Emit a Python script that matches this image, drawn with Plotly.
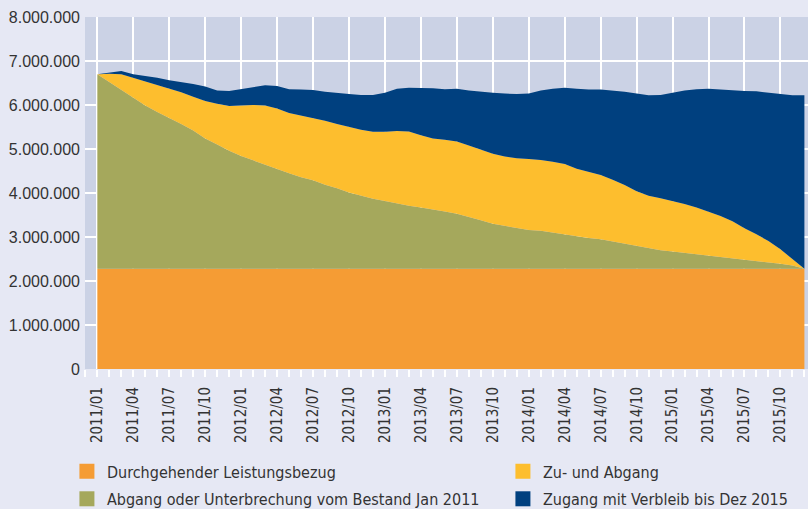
import plotly.graph_objects as go

months = [f"{y}/{m:02d}" for y in range(2011, 2016) for m in range(1, 13)]
tick_labels = months[::3]

series_names = [
    "Durchgehender Leistungsbezug",
    "Abgang oder Unterbrechung vom Bestand Jan 2011",
    "Zu- und Abgang",
    "Zugang mit Verbleib bis Dez 2015",
]
colors = ["#F59C34", "#A5A85C", "#FDBE2E", "#00407F"]

# values in millions (stacked layers, bottom to top)
durchgehend = [2.28, 2.28, 2.28, 2.28, 2.28, 2.28, 2.28, 2.28, 2.28, 2.28, 2.28, 2.28,
               2.28, 2.28, 2.28, 2.28, 2.28, 2.28, 2.28, 2.28, 2.28, 2.28, 2.28, 2.28,
               2.28, 2.28, 2.28, 2.28, 2.28, 2.28, 2.28, 2.28, 2.28, 2.28, 2.28, 2.28,
               2.28, 2.28, 2.28, 2.28, 2.28, 2.28, 2.28, 2.28, 2.28, 2.28, 2.28, 2.28,
               2.28, 2.28, 2.28, 2.28, 2.28, 2.28, 2.28, 2.28, 2.28, 2.28, 2.28, 2.28]
abgang = [4.42, 4.24, 4.06, 3.88, 3.71, 3.56, 3.43, 3.29, 3.14, 2.96, 2.82, 2.68,
          2.56, 2.46, 2.36, 2.27, 2.17, 2.08, 2.01, 1.91, 1.83, 1.73, 1.66, 1.59,
          1.54, 1.48, 1.43, 1.39, 1.35, 1.30, 1.25, 1.18, 1.10, 1.02, 0.97, 0.92,
          0.88, 0.86, 0.82, 0.78, 0.73, 0.70, 0.67, 0.62, 0.57, 0.51, 0.46, 0.42,
          0.39, 0.36, 0.33, 0.30, 0.27, 0.23, 0.20, 0.17, 0.14, 0.11, 0.07, 0.00]
zu_und_abgang = [0.00, 0.19, 0.36, 0.46, 0.54, 0.61, 0.66, 0.72, 0.77, 0.85, 0.93, 1.02,
                 1.15, 1.26, 1.35, 1.37, 1.37, 1.40, 1.42, 1.45, 1.46, 1.49, 1.50, 1.52,
                 1.57, 1.65, 1.69, 1.64, 1.61, 1.63, 1.64, 1.62, 1.60, 1.59, 1.58, 1.59,
                 1.61, 1.61, 1.61, 1.60, 1.54, 1.50, 1.46, 1.40, 1.33, 1.25, 1.20, 1.18,
                 1.15, 1.11, 1.06, 1.00, 0.93, 0.85, 0.72, 0.61, 0.49, 0.33, 0.15, 0.00]
zugang = [0.00, 0.03, 0.07, 0.08, 0.13, 0.17, 0.19, 0.23, 0.29, 0.33, 0.30, 0.34,
          0.37, 0.41, 0.46, 0.51, 0.54, 0.59, 0.63, 0.66, 0.70, 0.75, 0.79, 0.84,
          0.89, 0.96, 0.99, 1.08, 1.14, 1.15, 1.20, 1.25, 1.32, 1.39, 1.43, 1.46,
          1.49, 1.58, 1.66, 1.73, 1.82, 1.87, 1.94, 2.03, 2.12, 2.22, 2.28, 2.35,
          2.46, 2.58, 2.69, 2.79, 2.87, 2.97, 3.12, 3.25, 3.37, 3.53, 3.72, 3.94]

series = [durchgehend, abgang, zu_und_abgang, zugang]
UNIT = 1_000_000
xpos = list(range(len(months)))

fig = go.Figure()
for name, col, vals in zip(series_names, colors, series):
    fig.add_trace(go.Scatter(
        x=xpos, y=[v * UNIT for v in vals], name=name,
        stackgroup="one", mode="lines", line=dict(width=0, color=col),
        fillcolor=col, showlegend=False, hoverinfo="skip",
    ))

# legend entries (square symbols), two rows
legend_rows = [("legend", [0, 2]), ("legend2", [1, 3])]
for lg, idxs in legend_rows:
    for k, i in enumerate(idxs):
        fig.add_trace(go.Scatter(
            x=[None], y=[None], mode="markers", name=series_names[i],
            marker=dict(symbol="square", size=15, color=colors[i]),
            legend=lg, showlegend=True, hoverinfo="skip",
            legendwidth=391 if k == 0 else 250,
        ))

txt = "#333333"
narrow = "DejaVu Sans Condensed, Liberation Sans Narrow, Arial Narrow, sans-serif"
legend_common = dict(
    orientation="h", xanchor="left", yanchor="middle", x=-0.025,
    itemsizing="trace", traceorder="normal", bgcolor="rgba(0,0,0,0)",
    font=dict(family=narrow, size=16, color=txt),
)

fig.update_layout(
    width=808, height=509,
    margin=dict(l=85, r=0, t=17, b=140, autoexpand=False),
    paper_bgcolor="#E6E8F4", plot_bgcolor="#CBD2E5",
    separators=",.",
    showlegend=True,
    legend=dict(**legend_common, y=-0.291),
    legend2=dict(**legend_common, y=-0.369),
    xaxis=dict(
        range=[-1.03, 59.3], tickmode="array", tickvals=xpos[::3], ticktext=tick_labels,
        tickangle=-90, ticks="outside", ticklen=7, tickwidth=1.5, tickcolor="white",
        showgrid=True, gridcolor="white", gridwidth=1.5, zeroline=False, showline=False,
        automargin=False, ticklabelstandoff=4,
        tickfont=dict(family=narrow, size=15, color=txt),
        minor=dict(dtick=1, tick0=0, ticks="outside", ticklen=7, tickwidth=1.5,
                   tickcolor="white", showgrid=False),
    ),
    yaxis=dict(
        range=[0, 8 * UNIT], dtick=UNIT, tickformat=",.0f",
        showgrid=True, gridcolor="white", gridwidth=1.5, zeroline=False, showline=False,
        ticks="", ticklabelstandoff=4, automargin=False,
        tickfont=dict(family="Liberation Sans, Arial, sans-serif", size=16, color=txt),
    ),
)

fig.write_html(
    "out.html",
    config={"displayModeBar": False},
    post_script="document.body.style.margin='0';document.body.style.background='#E6E8F4';",
)
